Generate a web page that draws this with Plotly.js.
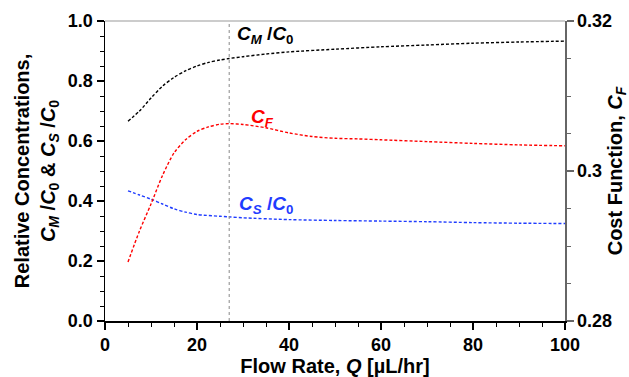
<!DOCTYPE html>
<html>
<head>
<meta charset="utf-8">
<script src="https://cdn.plot.ly/plotly-3.0.1.min.js"></script>
<style>html,body{margin:0;padding:0;background:#fff;}#plot{width:629px;height:377px;}</style>
</head>
<body>
<div id="plot"></div>
<script>
// Flow rate Q [µL/hr]
const qM = [5, 7.5, 10, 12.5, 15, 17.5, 20, 22.5, 25, 27, 30, 35, 40, 50, 60, 70, 80, 90, 100];
const cmC0 = [0.666, 0.700, 0.743, 0.783, 0.812, 0.834, 0.850, 0.862, 0.870, 0.875, 0.881, 0.890, 0.897, 0.906, 0.914, 0.920, 0.926, 0.930, 0.933];

const qS = [5, 7.5, 10, 12.5, 15, 17.5, 20, 25, 27, 30, 40, 50, 60, 70, 80, 90, 100];
const csC0 = [0.434, 0.420, 0.406, 0.390, 0.374, 0.363, 0.355, 0.349, 0.347, 0.344, 0.338, 0.335, 0.333, 0.331, 0.328, 0.326, 0.325];

// Cost function C_F (right axis)
const qF = [5, 7.5, 10, 12.5, 15, 17.5, 20, 22.5, 25, 27, 30, 35, 40, 45, 50, 55, 60, 70, 80, 90, 100];
const costF = [0.28788, 0.2920, 0.2956, 0.2994, 0.3024, 0.30416, 0.30528, 0.30588, 0.30624, 0.30632, 0.3062, 0.30576, 0.30508, 0.3046, 0.30436, 0.30428, 0.30416, 0.30392, 0.30368, 0.30348, 0.30336];

const optimumQ = 27;
const xTicks = [0, 20, 40, 60, 80, 100];
const yTicks = [0, 0.2, 0.4, 0.6, 0.8, 1.0];
const yTickText = ['0.0', '0.2', '0.4', '0.6', '0.8', '1.0'];
const y2Ticks = [0.28, 0.3, 0.32];
const y2TickText = ['0.28', '0.3', '0.32'];

const font = 'Liberation Sans, Arial, sans-serif';
const dash = '3px,2px';

const traces = [
  {x: qM, y: cmC0, mode: 'lines', line: {color: '#000', width: 1.4, dash: dash, shape: 'spline', smoothing: 0.8}, yaxis: 'y'},
  {x: qF, y: costF, mode: 'lines', line: {color: '#ff0000', width: 1.4, dash: dash, shape: 'spline', smoothing: 0.8}, yaxis: 'y2'},
  {x: qS, y: csC0, mode: 'lines', line: {color: '#1f3cff', width: 1.4, dash: dash, shape: 'spline', smoothing: 0.8}, yaxis: 'y'}
];

const tickFont = {family: font, size: 18, color: '#000', weight: 'bold'};
const titleFont = {family: font, size: 20, color: '#000', weight: 'bold'};
const annFont = (c) => ({family: font, size: 19, color: c, weight: 'bold'});

const layout = {
  width: 629, height: 377,
  margin: {l: 105, r: 64, t: 21, b: 56},
  paper_bgcolor: '#fff', plot_bgcolor: '#fff',
  showlegend: false,
  font: {family: font},
  xaxis: {
    range: [0, 100], tickvals: xTicks, ticktext: xTicks.map(String),
    showgrid: false, zeroline: false, showline: true, linecolor: '#000', linewidth: 1.5,
    ticks: 'outside', ticklen: 7, tickwidth: 1.5, tickcolor: '#000',
    minor: {dtick: 5, ticks: 'outside', ticklen: 4, tickwidth: 1, tickcolor: '#000'},
    tickfont: tickFont,
    title: {text: '<b>Flow Rate, <i>Q</i> [µL/hr]</b>', font: titleFont, standoff: 8}
  },
  xaxis2: {
    range: [0, 100], overlaying: 'x', anchor: 'y', side: 'bottom', tickvals: xTicks,
    showticklabels: false, showgrid: false, zeroline: false, showline: false,
    ticks: 'inside', ticklen: 5, tickwidth: 1.5, tickcolor: '#000',
    minor: {dtick: 5, ticks: 'inside', ticklen: 3, tickwidth: 1, tickcolor: '#000'}
  },
  yaxis: {
    range: [0, 1], tickvals: yTicks, ticktext: yTickText,
    showgrid: false, zeroline: false, showline: true, linecolor: '#000', linewidth: 1.5,
    ticks: 'outside', ticklen: 7, tickwidth: 1.5, tickcolor: '#000',
    minor: {dtick: 0.05, ticks: 'outside', ticklen: 4, tickwidth: 1, tickcolor: '#000'},
    tickfont: tickFont,
    title: {text: '<b>Relative Concentrations,<br><i>C<sub>M</sub></i> /<i>C</i><sub>0</sub> &amp; <i>C<sub>S</sub></i> /<i>C</i><sub>0</sub></b>', font: titleFont, standoff: 7}
  },
  yaxis3: {
    range: [0, 1], overlaying: 'y', anchor: 'x', side: 'left', tickvals: yTicks,
    showticklabels: false, showgrid: false, zeroline: false, showline: false,
    ticks: 'inside', ticklen: 5, tickwidth: 1.5, tickcolor: '#000',
    minor: {dtick: 0.05, ticks: 'inside', ticklen: 3, tickwidth: 1, tickcolor: '#000'}
  },
  yaxis2: {
    range: [0.28, 0.32], overlaying: 'y', side: 'right',
    tickvals: y2Ticks, ticktext: y2TickText,
    showgrid: false, zeroline: false, showline: true, linecolor: '#666', linewidth: 1.5,
    ticks: 'outside', ticklen: 7, tickwidth: 1.5, tickcolor: '#666',
    minor: {dtick: 0.005, ticks: 'outside', ticklen: 4, tickwidth: 1, tickcolor: '#666'},
    tickfont: tickFont,
    title: {text: '<b>Cost Function, <i>C<sub>F</sub></i></b>', font: titleFont, standoff: 6}
  },
  shapes: [
    {type: 'line', xref: 'x', yref: 'paper', x0: optimumQ, x1: optimumQ, y0: 0, y1: 1,
     line: {color: '#888', width: 1, dash: 'dot'}},
    {type: 'line', xref: 'paper', yref: 'paper', x0: 0, x1: 1, y0: 1, y1: 1,
     line: {color: '#999', width: 1}}
  ],
  annotations: [
    {x: 34.8, y: 0.952, xref: 'x', yref: 'y', showarrow: false,
     text: '<b><i>C<sub>M</sub></i> /<i>C</i><sub>0</sub></b>', font: annFont('#000')},
    {x: 34.2, y: 0.676, xref: 'x', yref: 'y', showarrow: false,
     text: '<b><i>C<sub>F</sub></i></b>', font: annFont('#ff0000')},
    {x: 35, y: 0.386, xref: 'x', yref: 'y', showarrow: false,
     text: '<b><i>C<sub>S</sub></i> /<i>C</i><sub>0</sub></b>', font: annFont('#1f3cff')}
  ]
};

Plotly.newPlot('plot', traces, layout, {staticPlot: true, displayModeBar: false});
</script>
</body>
</html>
